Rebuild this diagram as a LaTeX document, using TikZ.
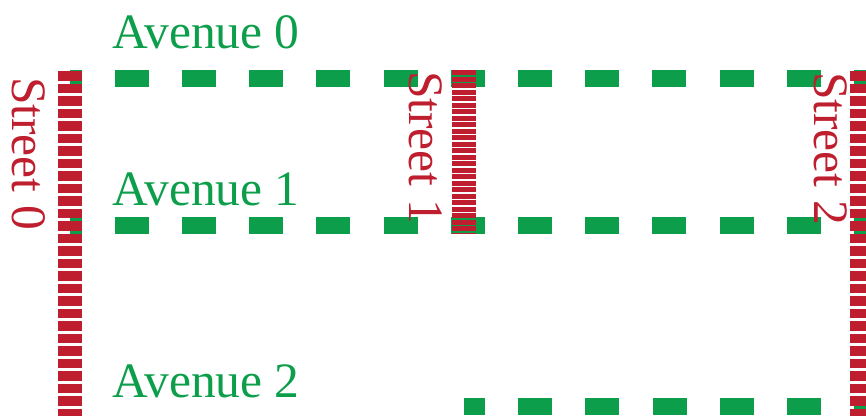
\documentclass[tikz,border=0pt]{standalone}
\usepackage{fontspec}
\setmainfont{Liberation Serif}
\definecolor{avegreen}{RGB}{12,158,74}
\definecolor{streetred}{RGB}{190,30,45}
\tikzset{
  avenue/.style={draw=avegreen, line width=17bp, dash pattern=on 34bp off 33.2bp},
  streetline/.style={draw=streetred, line width=24bp},
  avelabel/.style={text=avegreen, font=\fontsize{49.5bp}{49.5bp}\selectfont, inner sep=0pt, anchor=base west},
  streetlabel/.style={text=streetred, font=\fontsize{49.5bp}{49.5bp}\selectfont, inner sep=0pt, anchor=base west, rotate=-90}
}
\begin{document}
\begin{tikzpicture}[x=1bp, y=-1bp]
\useasboundingbox (0,0) rectangle (866,415);
\clip (0,0) rectangle (866,415);
% avenues
\coordinate (a0s) at (70,78.5);   \coordinate (a0e) at (890,78.5);
\coordinate (a1s) at (70,225.5);  \coordinate (a1e) at (890,225.5);
\coordinate (a2s) at (464,406.5); \coordinate (a2e) at (890,406.5);
\draw[avenue, dash phase=22.5bp] (a0s) -- (a0e);
\draw[avenue, dash phase=22.5bp] (a1s) -- (a1e);
\draw[avenue, dash phase=13bp] (a2s) -- (a2e);
% streets
\coordinate (s0s) at (69.5,71); \coordinate (s0e) at (69.5,430);
\coordinate (s1s) at (464,70);  \coordinate (s1e) at (464,234);
\coordinate (s2s) at (862,71);  \coordinate (s2e) at (862,430);
\draw[streetline, dash pattern=on 9.5bp off 3bp] (s0s) -- (s0e);
\draw[streetline, dash pattern=on 5bp off 1.5bp] (s1s) -- (s1e);
\draw[streetline, dash pattern=on 9.5bp off 3bp] (s2s) -- (s2e);
% labels
\node[avelabel] (av0) at (112,48) {Avenue 0};
\node[avelabel] (av1) at (112,205) {Avenue 1};
\node[avelabel] (av2) at (112,397) {Avenue 2};
\node[streetlabel] (st0) at (12,77) {Street 0};
\node[streetlabel] (st1) at (409,71) {Street 1};
\node[streetlabel] (st2) at (814,72) {Street 2};
\end{tikzpicture}
\end{document}
